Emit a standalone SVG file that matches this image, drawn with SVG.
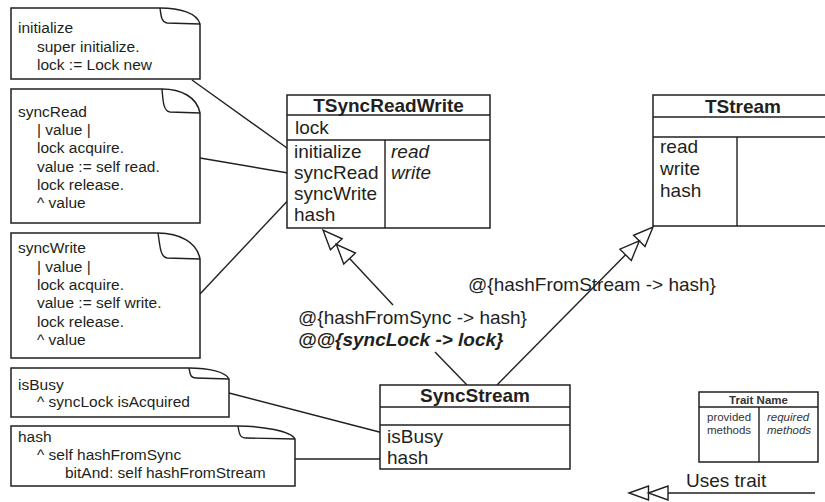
<svg xmlns="http://www.w3.org/2000/svg" width="825" height="502" viewBox="0 0 825 502">
<style>
.bx{fill:#fff;stroke:#231f20;stroke-width:1.5}
.ln{fill:none;stroke:#231f20;stroke-width:1.4}
.tri{fill:#fff;stroke:#231f20;stroke-width:1.4;stroke-linejoin:miter}
.nt{font-family:"Liberation Sans",Arial,sans-serif;font-size:15.5px;fill:#231f20}
.tx{font-family:"Liberation Sans",Arial,sans-serif;font-size:19px;fill:#231f20}
.ttl{font-family:"Liberation Sans",Arial,sans-serif;font-size:19px;font-weight:bold;fill:#231f20;text-anchor:middle}
.it{font-style:italic}
.sm{font-family:"Liberation Sans",Arial,sans-serif;font-size:11.5px;fill:#333}
</style>
<rect width="825" height="502" fill="#fff"/>
<g id="connectors">
<path class="ln" d="M192,80 L294,153"/>
<path class="ln" d="M200,158 L294,174"/>
<path class="ln" d="M200,294 L294,194"/>
<path class="ln" d="M229,393 L387,434"/>
<path class="ln" d="M295,459 L387,459"/>
<path class="ln" d="M435,352 L467,385"/>
<path class="ln" d="M349.6,258.5 L393,305"/>
<path class="tri" d="M323,230 L330.45,249.7 L342.15,238.8 Z"/>
<path class="tri" d="M336.3,244.25 L343.75,263.96 L355.45,253.04 Z"/>
<path class="ln" d="M625.6,254.8 L497,385"/>
<path class="tri" d="M653,227 L645,246.5 L633.6,235.3 Z"/>
<path class="tri" d="M639.3,240.9 L631.3,260.4 L619.9,249.2 Z"/>
<text class="tx" x="298" y="324">@{hashFromSync -&gt; hash}</text>
<text class="tx it" x="298" y="346" font-weight="bold">@@{syncLock -&gt; lock}</text>
<text class="tx" x="468" y="291">@{hashFromStream -&gt; hash}</text>
</g>
<g id="note-initialize">
<path class="bx" d="M11,8 H160 C180,8 197,13 200,24 V79 H11 Z"/>
<path class="ln" d="M160,8 C161,15 161,22 167,23 L200,24"/>
<text class="nt" x="18" y="33">initialize</text>
<text class="nt" x="37" y="51.5">super initialize.</text>
<text class="nt" x="37" y="70">lock := Lock new</text>
</g>
<g id="note-syncRead">
<path class="bx" d="M11,89 H162 C181,89 197,97 200,113 V223 H11 Z"/>
<path class="ln" d="M162,89 C163,100 163,111 170,112 L200,113"/>
<text class="nt" x="18" y="117">syncRead</text>
<text class="nt" x="37" y="135">| value |</text>
<text class="nt" x="37" y="153">lock acquire.</text>
<text class="nt" x="37" y="172">value := self read.</text>
<text class="nt" x="37" y="190">lock release.</text>
<text class="nt" x="37" y="208">^ value</text>
</g>
<g id="note-syncWrite">
<path class="bx" d="M11,233 H158 C179,233 197,242 200,259 V358 H11 Z"/>
<path class="ln" d="M158,233 C160,245 160,257 167,258 L200,259"/>
<text class="nt" x="18" y="253">syncWrite</text>
<text class="nt" x="37" y="272">| value |</text>
<text class="nt" x="37" y="290">lock acquire.</text>
<text class="nt" x="37" y="308">value := self write.</text>
<text class="nt" x="37" y="327">lock release.</text>
<text class="nt" x="37" y="345">^ value</text>
</g>
<g id="note-isBusy">
<path class="bx" d="M11,368 H189 C209,368 226,372 229,379 V417 H11 Z"/>
<path class="ln" d="M189,368 C190,373 190,378 196,378 L229,379"/>
<text class="nt" x="18" y="390">isBusy</text>
<text class="nt" x="37" y="407">^ syncLock isAcquired</text>
</g>
<g id="note-hash">
<path class="bx" d="M11,426 H238 C262,426 291,431 295,439 V486 H11 Z"/>
<path class="ln" d="M238,426 C239,432 239,438 246,438 L295,439"/>
<text class="nt" x="18" y="442">hash</text>
<text class="nt" x="37" y="460">^ self hashFromSync</text>
<text class="nt" x="65" y="478">bitAnd: self hashFromStream</text>
</g>
<g id="TSyncReadWrite">
<rect class="bx" x="287" y="95" width="203" height="133"/>
<path class="ln" d="M287,115 H490 M287,140 H490 M385,140 V228"/>
<text class="ttl" x="388.5" y="112">TSyncReadWrite</text>
<text class="tx" x="295" y="134">lock</text>
<text class="tx" x="294" y="158">initialize</text>
<text class="tx" x="294" y="179">syncRead</text>
<text class="tx" x="294" y="200">syncWrite</text>
<text class="tx" x="294" y="221">hash</text>
<text class="tx it" x="391" y="158">read</text>
<text class="tx it" x="391" y="179">write</text>
</g>
<g id="TStream">
<rect class="bx" x="653" y="95" width="180" height="131"/>
<path class="ln" d="M653,117 H833 M653,137 H833 M737,137 V226"/>
<text class="ttl" x="743" y="113">TStream</text>
<text class="tx" x="660" y="153">read</text>
<text class="tx" x="660" y="175">write</text>
<text class="tx" x="660" y="197">hash</text>
</g>
<g id="SyncStream">
<rect class="bx" x="380" y="385" width="190" height="84"/>
<path class="ln" d="M380,407 H570 M380,425 H570"/>
<text class="ttl" x="475" y="402">SyncStream</text>
<text class="tx" x="387" y="443">isBusy</text>
<text class="tx" x="387" y="464">hash</text>
</g>
<g id="legend-trait">
<rect class="bx" x="699" y="392" width="119" height="70"/>
<path class="ln" d="M699,407 H818 M759,407 V462"/>
<text class="sm" x="758.5" y="404" font-weight="bold" text-anchor="middle" fill="#231f20">Trait Name</text>
<text class="sm" x="707" y="421">provided</text>
<text class="sm" x="707" y="434">methods</text>
<text class="sm it" x="767" y="421">required</text>
<text class="sm it" x="767" y="434">methods</text>
</g>
<g id="legend-uses">
<path class="ln" d="M668,493 H815"/>
<path class="tri" d="M629,493 L648.5,486 L648.5,500 Z"/>
<path class="tri" d="M648.5,493 L668,486 L668,500 Z"/>
<text class="tx" x="686" y="487">Uses trait</text>
</g>
</svg>
